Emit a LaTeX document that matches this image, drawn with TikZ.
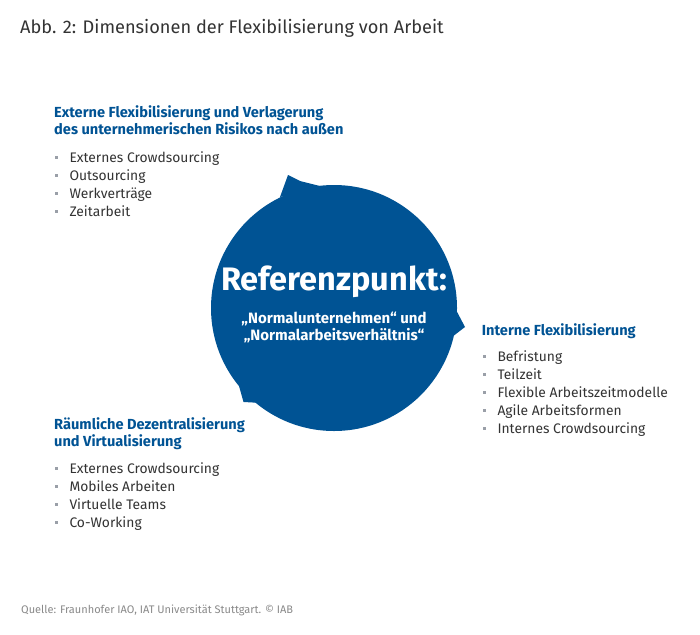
\documentclass[tikz,border=0pt]{standalone}
\usepackage{fontspec}
\setmainfont{Fira Sans}
\definecolor{iabblue}{HTML}{005394}
\definecolor{bodytext}{HTML}{333333}
\definecolor{bulletgray}{HTML}{9A9FA8}
\definecolor{srcgray}{HTML}{8A8A8A}
\tikzset{
  title/.style={anchor=base west, inner sep=0pt, text=bodytext, font=\fontsize{18.2}{20}\selectfont},
  head/.style={anchor=base west, inner sep=0pt, text=iabblue, font=\bfseries\fontsize{14.6}{16.5}\selectfont, align=left},
  item/.style={anchor=base west, inner sep=0pt, text=bodytext, font=\fontsize{13.85}{17}\selectfont},
  bul/.style={fill=bulletgray, minimum size=3pt, inner sep=0pt, draw=none},
  src/.style={anchor=base west, inner sep=0pt, text=srcgray, font=\fontsize{11}{12}\selectfont},
  big/.style={anchor=base, inner sep=0pt, text=white, font=\bfseries\fontsize{32.5}{34}\selectfont},
  sub/.style={anchor=base, inner sep=0pt, text=white, font=\bfseries\fontsize{15}{17}\selectfont},
}
\newcommand{\bulletlist}[4]{% name, x text, first baseline, list
  \foreach \t [count=\i from 0] in {#4} {
    \node[item] (it#1\i) at (#2, {#3+\i*18}) {\t};
    \node[bul] (bu#1\i) at ($(it#1\i.base west)+(-12.5,-5)$) {};
  }
}
\usetikzlibrary{calc}
\begin{document}
\begin{tikzpicture}[x=1pt,y=-1pt]
\useasboundingbox (0,0) rectangle (700,634);
\fill[white] (0,0) rectangle (700,634);
% title
\node[title] (title) at (20,33.3) {Abb. 2: Dimensionen der Flexibilisierung von Arbeit};
% circle
\coordinate (c) at (334,308);
\fill[iabblue] (c) circle[radius=123];
\fill[iabblue] (280,197) -- (288,175) -- (300,181) -- (324,187) -- cycle;
\fill[iabblue] (455,308) -- (465,327) -- (452,337) -- cycle;
\fill[iabblue] (239,386) -- (243.5,402) -- (262,403) -- (250,390) -- cycle;
\node[big] (ref) at (334,290) {Referenzpunkt:};
\node[sub] (s1) at (334,323.3) {„Normalunternehmen“ und};
\node[sub] (s2) at (334,340.3) {„Normalarbeitsverhältnis“};
% top-left
\node[head] (h1a) at (54,117.5) {Externe Flexibilisierung und Verlagerung};
\node[head] (h1b) at (54,134.5) {des unternehmerischen Risikos nach außen};
\bulletlist{a}{69.3}{162.7}{Externes Crowdsourcing,Outsourcing,Werkverträge,Zeitarbeit}
% right
\node[head] (h2) at (481.7,335) {Interne Flexibilisierung};
\bulletlist{b}{497.3}{361.8}{Befristung,Teilzeit,Flexible Arbeitszeitmodelle,Agile Arbeitsformen,Internes Crowdsourcing}
% bottom-left
\node[head] (h3a) at (54,429) {Räumliche Dezentralisierung};
\node[head] (h3b) at (54,446.5) {und Virtualisierung};
\bulletlist{c}{69.3}{473}{Externes Crowdsourcing,Mobiles Arbeiten,Virtuelle Teams,Co-Working}
% source
\node[src] (src) at (21,613) {Quelle: Fraunhofer IAO, IAT Universität Stuttgart. © IAB};
\end{tikzpicture}
\end{document}
